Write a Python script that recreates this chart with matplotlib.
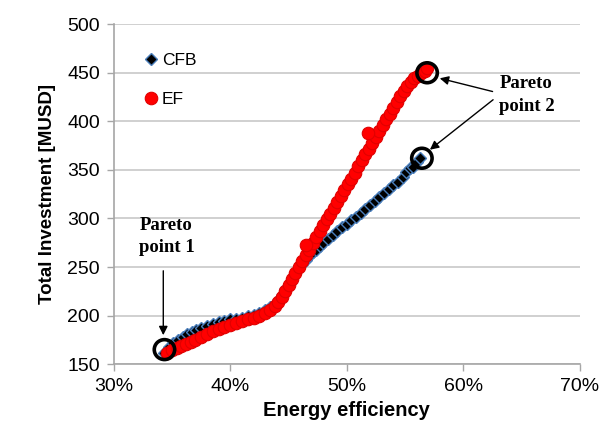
import matplotlib
matplotlib.use("Agg")
import matplotlib.pyplot as plt
from matplotlib.patches import Ellipse
from matplotlib.ticker import FuncFormatter

# ---- data ------------------------------------------------------------------
cfb_x = [0.343, 0.347, 0.351, 0.355, 0.359, 0.363, 0.367, 0.371, 0.375, 0.380,
         0.385, 0.390, 0.395, 0.400, 0.405, 0.410, 0.415, 0.420, 0.425, 0.430,
         0.434, 0.438, 0.441, 0.444, 0.447, 0.450, 0.453, 0.456, 0.459, 0.462,
         0.465, 0.468, 0.471, 0.474, 0.477, 0.480, 0.484, 0.488, 0.492, 0.496,
         0.500, 0.504, 0.508, 0.512, 0.516, 0.520, 0.524, 0.528, 0.532, 0.536,
         0.540, 0.544, 0.548, 0.551, 0.554, 0.557, 0.560, 0.563]
cfb_y = [162, 168, 172, 175, 178, 181, 183, 185, 187, 189,
         191, 193, 194, 196, 197, 198, 200, 201, 203, 206,
         209, 212, 216, 221, 227, 233, 239, 244, 249, 253,
         257, 261, 265, 268, 272, 275, 279, 283, 287, 291,
         294, 298, 302, 306, 310, 314, 318, 322, 326, 330,
         334, 338, 343, 348, 352, 353, 358, 362]

ef_x = [0.346, 0.350, 0.354, 0.358, 0.362, 0.366, 0.370, 0.375, 0.380, 0.385,
        0.390, 0.395, 0.400, 0.405, 0.410, 0.415, 0.420, 0.425, 0.430, 0.434,
        0.438, 0.441, 0.444, 0.447, 0.450, 0.453, 0.456, 0.459, 0.462, 0.465,
        0.468, 0.471, 0.474, 0.477, 0.480, 0.483, 0.486, 0.489, 0.492, 0.495,
        0.498, 0.501, 0.504, 0.507, 0.510, 0.513, 0.516, 0.519, 0.522, 0.525,
        0.528, 0.531, 0.534, 0.537, 0.540, 0.543, 0.546, 0.549, 0.552, 0.555,
        0.558, 0.561, 0.564, 0.567, 0.569, 0.465, 0.518]
ef_y = [162, 165, 167, 169, 171, 173, 175, 178, 181, 184,
        186, 188, 190, 192, 194, 196, 198, 200, 203, 206,
        210, 214, 219, 225, 232, 238, 244, 250, 256, 262,
        268, 275, 281, 287, 293, 299, 305, 311, 317, 323,
        329, 335, 341, 347, 354, 360, 366, 372, 378, 384,
        390, 396, 402, 408, 414, 420, 426, 431, 436, 441,
        445, 447, 450, 452, 455, 273, 388]

pareto1 = (0.3435, 165)
pareto2_ef = (0.569, 450)
pareto2_cfb = (0.5645, 362)

x_ticks = [0.3, 0.4, 0.5, 0.6, 0.7]
y_ticks = [150, 200, 250, 300, 350, 400, 450, 500]

# ---- figure ------------------------------------------------------------------
plt.rcParams["font.family"] = ["Liberation Sans", "DejaVu Sans"]
fig = plt.figure(figsize=(6.02, 4.32), dpi=100)
ax = fig.add_axes([0.189, 0.157, 0.774, 0.787])

ax.plot(cfb_x, cfb_y, ls="none", marker="D", ms=6.5, mfc="black",
        mec="#4a7ebb", mew=1.0, label="CFB", zorder=3)
ax.plot(ef_x, ef_y, ls="none", marker="o", ms=9, mfc="#ff0000",
        mec="#e00000", mew=0.8, label="EF", zorder=4)

ax.set_xlim(0.3, 0.7)
ax.set_ylim(150, 500)
ax.set_xticks(x_ticks)
ax.set_yticks(y_ticks)
ax.xaxis.set_major_formatter(FuncFormatter(lambda v, p: f"{v*100:.0f}%"))
ax.tick_params(labelsize=14, color="#a6a6a6", length=5, width=1, pad=5)
ax.grid(axis="y", color="#c8c8c8", lw=1.2)
ax.set_axisbelow(True)
for s in ["top", "right"]:
    ax.spines[s].set_visible(False)
for s in ["left", "bottom"]:
    ax.spines[s].set_color("#a6a6a6")
    ax.spines[s].set_linewidth(1.2)

ax.set_xlabel("Energy efficiency", fontsize=14.5, weight="bold", labelpad=4)
ax.set_ylabel("Total Investment [MUSD]", fontsize=13.5, weight="bold", labelpad=8)

ax.legend(loc="upper left", bbox_to_anchor=(0.045, 0.935), frameon=False,
          fontsize=12.5, handletextpad=0.05, handlelength=1.1, labelspacing=1.35,
          borderaxespad=0, markerscale=1.0)

# ---- pareto annotations ------------------------------------------------------
serif = ["Liberation Serif", "DejaVu Serif"]
for (cx, cy) in [pareto1, pareto2_ef, pareto2_cfb]:
    ax.add_patch(Ellipse((cx, cy), 0.0175, 20.5, fill=False, ec="black",
                         lw=2.6, zorder=6))

ax.text(0.322, 302, "Pareto\npoint 1", family=serif, fontsize=13.5,
        weight="bold", va="top", linespacing=1.45)
ax.annotate("", xy=(0.3425, 177), xytext=(0.3425, 249),
            arrowprops=dict(arrowstyle="-|>", color="black", lw=1.0,
                            mutation_scale=13), zorder=7)

ax.text(0.631, 448, "Pareto\npoint 2", family=serif, fontsize=13.5,
        weight="bold", va="top", linespacing=1.45)
ax.annotate("", xy=(0.5775, 445), xytext=(0.6275, 430),
            arrowprops=dict(arrowstyle="-|>", color="black", lw=1.0,
                            mutation_scale=13), zorder=7)
ax.annotate("", xy=(0.5695, 369), xytext=(0.6275, 424),
            arrowprops=dict(arrowstyle="-|>", color="black", lw=1.0,
                            mutation_scale=13), zorder=7)

fig.savefig("out.png", dpi=100)
